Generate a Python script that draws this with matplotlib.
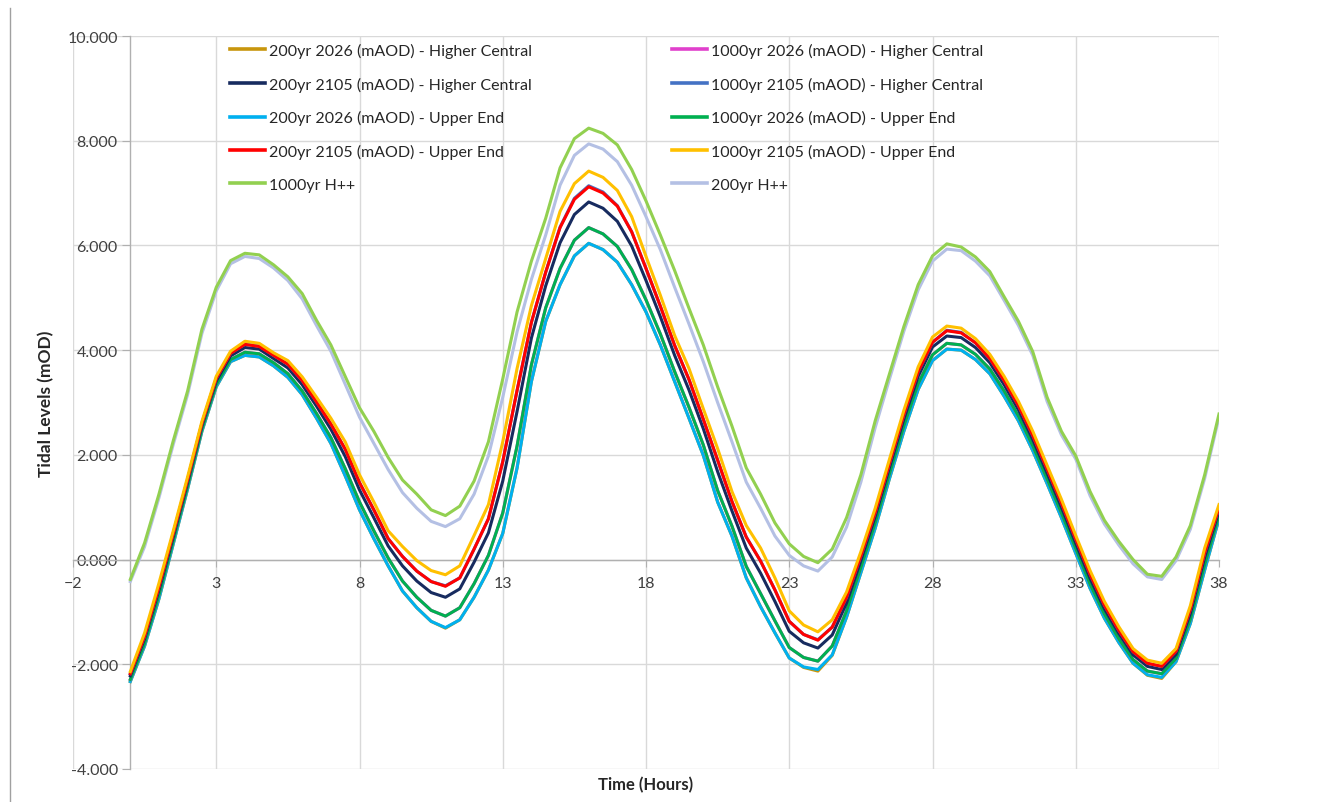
import numpy as np
import matplotlib
matplotlib.use("Agg")
import matplotlib.pyplot as plt
from matplotlib.ticker import FormatStrFormatter
from matplotlib.lines import Line2D

plt.rcParams['font.family'] = ['Lato', 'DejaVu Sans']

# time in hours (0 to 38, half-hour steps)
hours = np.arange(0, 38.5, 0.5)

y_200_2026_HC = [-2.33, -1.65, -0.75, 0.30, 1.35, 2.45, 3.30, 3.78, 3.90, 3.87, 3.70, 3.48, 3.15, 2.70, 2.22, 1.60,
                 0.95, 0.40, -0.12, -0.60, -0.92, -1.18, -1.31, -1.15, -0.72, -0.20, 0.50, 1.75, 3.40, 4.55, 5.25,
                 5.80, 6.04, 5.92, 5.68, 5.25, 4.73, 4.10, 3.40, 2.70, 1.99, 1.10, 0.45, -0.35, -0.90, -1.40, -1.88,
                 -2.06, -2.13, -1.83, -1.10, -0.25, 0.60, 1.55, 2.45, 3.25, 3.80, 4.02, 4.00, 3.82, 3.55, 3.12, 2.65,
                 2.08, 1.45, 0.80, 0.12, -0.55, -1.12, -1.58, -1.98, -2.21, -2.27, -1.95, -1.22, -0.20, 0.78]
y_200_2105_HC = [-2.22, -1.51, -0.58, 0.44, 1.48, 2.56, 3.41, 3.89, 4.05, 4.02, 3.84, 3.66, 3.34, 2.93, 2.49, 1.97,
                 1.33, 0.80, 0.26, -0.12, -0.41, -0.63, -0.72, -0.56, -0.05, 0.51, 1.50, 2.83, 4.23, 5.23, 6.05,
                 6.59, 6.83, 6.71, 6.46, 5.99, 5.33, 4.64, 3.90, 3.24, 2.50, 1.68, 0.93, 0.22, -0.26, -0.80, -1.37,
                 -1.59, -1.69, -1.44, -0.83, -0.02, 0.82, 1.76, 2.68, 3.50, 4.06, 4.27, 4.24, 4.05, 3.76, 3.34, 2.86,
                 2.29, 1.65, 1.00, 0.31, -0.36, -0.94, -1.41, -1.82, -2.04, -2.10, -1.81, -1.03, 0.04, 0.93]
y_200_2026_UE = [-2.33, -1.65, -0.75, 0.30, 1.35, 2.45, 3.30, 3.78, 3.90, 3.87, 3.70, 3.48, 3.15, 2.70, 2.22, 1.60,
                 0.95, 0.40, -0.12, -0.60, -0.92, -1.18, -1.30, -1.15, -0.72, -0.20, 0.50, 1.75, 3.40, 4.55, 5.25,
                 5.80, 6.04, 5.92, 5.68, 5.25, 4.73, 4.10, 3.40, 2.70, 1.99, 1.10, 0.45, -0.35, -0.90, -1.40, -1.88,
                 -2.05, -2.10, -1.82, -1.10, -0.25, 0.60, 1.55, 2.45, 3.25, 3.80, 4.02, 4.00, 3.82, 3.55, 3.12, 2.65,
                 2.08, 1.45, 0.80, 0.12, -0.55, -1.12, -1.58, -1.98, -2.20, -2.25, -1.95, -1.22, -0.20, 0.78]
y_200_2105_UE = [-2.18, -1.46, -0.52, 0.50, 1.53, 2.60, 3.46, 3.94, 4.11, 4.07, 3.90, 3.73, 3.42, 3.01, 2.59, 2.11,
                 1.47, 0.95, 0.40, 0.06, -0.22, -0.42, -0.51, -0.35, 0.20, 0.78, 1.87, 3.23, 4.53, 5.49, 6.34,
                 6.88, 7.12, 7.00, 6.75, 6.26, 5.56, 4.84, 4.09, 3.44, 2.68, 1.90, 1.11, 0.43, -0.03, -0.58, -1.18,
                 -1.43, -1.54, -1.29, -0.72, 0.07, 0.90, 1.84, 2.77, 3.59, 4.15, 4.37, 4.33, 4.14, 3.84, 3.42, 2.94,
                 2.37, 1.73, 1.08, 0.39, -0.28, -0.87, -1.35, -1.76, -1.98, -2.04, -1.75, -0.95, 0.13, 0.99]
y_1000_HPP = [-0.38, 0.32, 1.25, 2.27, 3.22, 4.40, 5.20, 5.71, 5.85, 5.82, 5.63, 5.40, 5.08, 4.57, 4.10, 3.50,
              2.90, 2.45, 1.95, 1.52, 1.25, 0.95, 0.84, 1.02, 1.50, 2.25, 3.45, 4.73, 5.70, 6.52, 7.48,
              8.04, 8.24, 8.14, 7.92, 7.45, 6.85, 6.20, 5.52, 4.80, 4.10, 3.30, 2.55, 1.75, 1.25, 0.70, 0.30,
              0.06, -0.06, 0.20, 0.80, 1.62, 2.65, 3.55, 4.45, 5.25, 5.80, 6.03, 5.97, 5.78, 5.50, 5.02, 4.55,
              3.97, 3.10, 2.45, 1.98, 1.30, 0.75, 0.35, 0.00, -0.28, -0.32, 0.05, 0.65, 1.62, 2.78]
y_1000_2026_HC = [-2.29, -1.60, -0.68, 0.36, 1.40, 2.49, 3.34, 3.82, 3.96, 3.93, 3.76, 3.55, 3.22, 2.79, 2.33, 1.74,
                  1.10, 0.55, 0.03, -0.41, -0.72, -0.97, -1.08, -0.92, -0.46, 0.08, 0.89, 2.17, 3.72, 4.81, 5.56,
                  6.10, 6.34, 6.22, 5.98, 5.54, 4.96, 4.31, 3.59, 2.91, 2.19, 1.32, 0.64, -0.13, -0.65, -1.17, -1.68,
                  -1.87, -1.94, -1.65, -0.98, -0.15, 0.70, 1.64, 2.55, 3.36, 3.91, 4.13, 4.10, 3.92, 3.64, 3.22, 2.74,
                  2.17, 1.54, 0.89, 0.21, -0.47, -1.04, -1.51, -1.91, -2.13, -2.18, -1.89, -1.14, -0.10, 0.85]
y_1000_2105_HC = [-2.18, -1.46, -0.52, 0.50, 1.53, 2.60, 3.46, 3.94, 4.12, 4.08, 3.90, 3.73, 3.42, 3.01, 2.59, 2.11,
                  1.47, 0.95, 0.40, 0.06, -0.22, -0.42, -0.50, -0.35, 0.20, 0.78, 1.87, 3.23, 4.53, 5.49, 6.35,
                  6.90, 7.14, 7.02, 6.76, 6.26, 5.56, 4.84, 4.09, 3.44, 2.68, 1.90, 1.11, 0.43, -0.03, -0.58, -1.18,
                  -1.43, -1.53, -1.29, -0.72, 0.07, 0.90, 1.84, 2.77, 3.59, 4.15, 4.38, 4.34, 4.14, 3.84, 3.42, 2.94,
                  2.37, 1.73, 1.08, 0.39, -0.28, -0.87, -1.35, -1.76, -1.98, -2.04, -1.75, -0.95, 0.13, 0.99]
y_1000_2026_UE = [-2.29, -1.60, -0.68, 0.36, 1.40, 2.49, 3.34, 3.82, 3.96, 3.93, 3.76, 3.55, 3.22, 2.79, 2.33, 1.74,
                  1.10, 0.55, 0.03, -0.41, -0.72, -0.97, -1.08, -0.92, -0.46, 0.08, 0.89, 2.17, 3.72, 4.81, 5.56,
                  6.10, 6.34, 6.22, 5.98, 5.54, 4.96, 4.31, 3.59, 2.91, 2.19, 1.32, 0.64, -0.13, -0.65, -1.17, -1.68,
                  -1.87, -1.94, -1.65, -0.98, -0.15, 0.70, 1.64, 2.55, 3.36, 3.91, 4.13, 4.10, 3.92, 3.64, 3.22, 2.74,
                  2.17, 1.54, 0.89, 0.21, -0.47, -1.04, -1.51, -1.91, -2.13, -2.18, -1.89, -1.14, -0.10, 0.85]
y_1000_2105_UE = [-2.14, -1.40, -0.45, 0.55, 1.58, 2.64, 3.50, 3.98, 4.17, 4.13, 3.95, 3.80, 3.49, 3.10, 2.70, 2.25,
                  1.62, 1.10, 0.55, 0.25, -0.02, -0.21, -0.29, -0.12, 0.46, 1.05, 2.25, 3.65, 4.85, 5.75, 6.65,
                  7.18, 7.42, 7.30, 7.05, 6.55, 5.79, 5.05, 4.28, 3.65, 2.88, 2.12, 1.30, 0.65, 0.22, -0.35, -0.98,
                  -1.25, -1.38, -1.15, -0.62, 0.15, 0.98, 1.92, 2.85, 3.68, 4.25, 4.46, 4.42, 4.22, 3.92, 3.50, 3.02,
                  2.45, 1.80, 1.15, 0.46, -0.21, -0.80, -1.28, -1.70, -1.92, -1.98, -1.70, -0.88, 0.22, 1.05]
y_200_HPP = [-0.42, 0.25, 1.18, 2.20, 3.15, 4.32, 5.13, 5.65, 5.79, 5.75, 5.57, 5.33, 4.98, 4.47, 3.98, 3.35,
             2.72, 2.22, 1.72, 1.28, 0.98, 0.73, 0.63, 0.78, 1.25, 1.98, 3.10, 4.35, 5.35, 6.20, 7.15,
             7.72, 7.94, 7.84, 7.60, 7.15, 6.55, 5.92, 5.20, 4.50, 3.78, 3.00, 2.25, 1.48, 0.98, 0.45, 0.08,
             -0.12, -0.22, 0.05, 0.62, 1.48, 2.52, 3.45, 4.36, 5.15, 5.70, 5.93, 5.90, 5.70, 5.42, 4.95, 4.47,
             3.90, 3.02, 2.38, 1.92, 1.22, 0.68, 0.28, -0.08, -0.33, -0.38, -0.02, 0.58, 1.55, 2.72]

labels = ["200yr 2026 (mAOD) - Higher Central", "200yr 2105 (mAOD) - Higher Central",
          "200yr 2026 (mAOD) - Upper End", "200yr 2105 (mAOD) - Upper End", "1000yr H++",
          "1000yr 2026 (mAOD) - Higher Central", "1000yr 2105 (mAOD) - Higher Central",
          "1000yr 2026 (mAOD) - Upper End", "1000yr 2105 (mAOD) - Upper End", "200yr H++"]
series = [y_200_2026_HC, y_200_2105_HC, y_200_2026_UE, y_200_2105_UE, y_1000_HPP,
          y_1000_2026_HC, y_1000_2105_HC, y_1000_2026_UE, y_1000_2105_UE, y_200_HPP]
colors = ['#C8960C', '#172B5F', '#00B0F0', '#FF0000', '#92D050',
          '#E040CC', '#4472C4', '#00B050', '#FFC000', '#B4C0E4']
zorders = [3, 7, 4, 9, 12, 5, 8, 6, 10, 11]

x_ticks = [-2, 3, 8, 13, 18, 23, 28, 33, 38]
y_ticks = [-4, -2, 0, 2, 4, 6, 8, 10]

W, H = 1317, 803
fig = plt.figure(figsize=(W / 100, H / 100), dpi=100)
ax = fig.add_axes([73 / W, 33 / H, 1146 / W, 733 / H])
ax.set_xlim(-2, 38)
ax.set_ylim(-4, 10)

handles = []
for ys, lab, c, z in zip(series, labels, colors, zorders):
    ln, = ax.plot(hours, ys, color=c, lw=2.2, label=lab, zorder=z, solid_joinstyle='round')
    handles.append(ln)

ax.spines['top'].set_visible(False)
ax.spines['right'].set_visible(False)
ax.spines['left'].set_position(('data', 0))
ax.spines['bottom'].set_position(('data', 0))
for s in ['left', 'bottom']:
    ax.spines[s].set_color('#B0B0B0')
    ax.spines[s].set_linewidth(1.0)
    ax.spines[s].set_zorder(2)

ax.set_xticks(x_ticks)
ax.set_yticks(y_ticks)
ax.yaxis.set_major_formatter(FormatStrFormatter('%.3f'))
ax.tick_params(axis='y', length=6, color='#B0B0B0', labelsize=11.5, pad=3, labelcolor='#404040')
ax.tick_params(axis='x', length=5, color='#B0B0B0', labelsize=11.5, pad=7, labelcolor='#404040')
ax.grid(True, color='#D9D9D9', lw=1.0, zorder=0)
ax.set_axisbelow(True)

ax.set_xlabel('Time (Hours)', fontsize=12, fontweight='bold', color='#262626')
ax.xaxis.set_label_coords(0.5, -0.010)
ax.set_ylabel('Tidal Levels (mOD)', fontsize=12.5, fontweight='bold', color='#262626')
ax.yaxis.set_label_coords(-0.016, 0.5)

leg_kw = dict(loc='upper left', bbox_transform=fig.transFigure, frameon=False, fontsize=11.5,
              handlelength=2.2, handletextpad=0.25, labelspacing=1.16, borderpad=0, borderaxespad=0)
leg1 = ax.legend(handles[:5], labels[:5], bbox_to_anchor=(230 / W, 1 - 44 / H), **leg_kw)
ax.add_artist(leg1)
leg2 = ax.legend(handles[5:], labels[5:], bbox_to_anchor=(672 / W, 1 - 44 / H), **leg_kw)
for lg in (leg1, leg2):
    for t in lg.get_texts():
        t.set_color('#262626')
    for h in lg.get_lines():
        h.set_linewidth(2.6)

fig.add_artist(Line2D([10 / W, 10 / W], [0, 1 - 9 / H], transform=fig.transFigure, color='#A0A0A0', lw=1))

fig.savefig('out.png', dpi=100, facecolor='white')
